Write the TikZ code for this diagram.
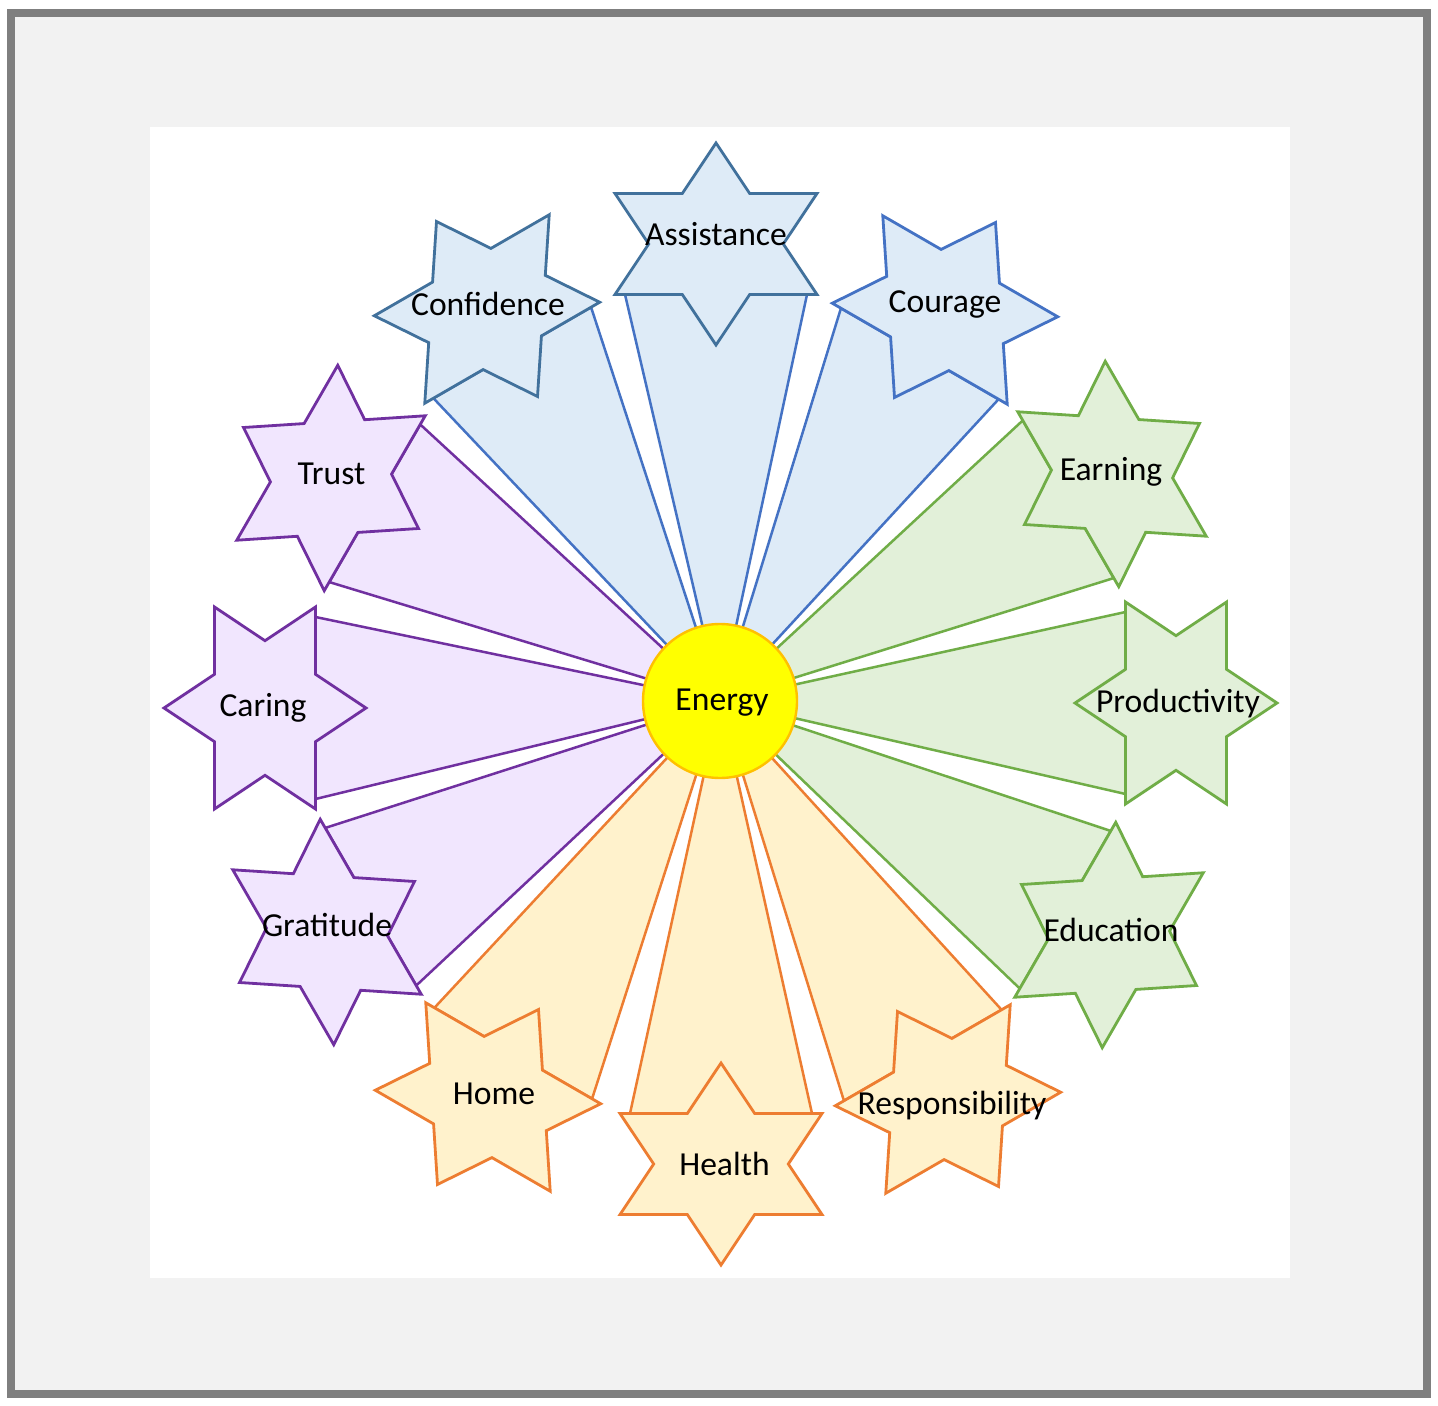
\documentclass[tikz,border=0pt]{standalone}
\usepackage{fontspec}
\setmainfont{Carlito}
\definecolor{borderGray}{HTML}{7F7F7F}
\definecolor{bgGray}{HTML}{F2F2F2}
\definecolor{blueF}{HTML}{DEEBF7}
\definecolor{blueL}{HTML}{4472C4}
\definecolor{blueS}{HTML}{41719C}
\definecolor{greenF}{HTML}{E2F0D9}
\definecolor{greenL}{HTML}{70AD47}
\definecolor{orangeF}{HTML}{FFF2CC}
\definecolor{orangeL}{HTML}{ED7D31}
\definecolor{purpleF}{HTML}{F1E6FE}
\definecolor{purpleL}{HTML}{7030A0}
\definecolor{energyF}{HTML}{FFFF00}
\definecolor{energyL}{HTML}{FFC000}
\def\hexdata{assist/716/1161/0/blueF/blueL/blueS,
courage/945/1095/-30/blueF/blueL/blueL,
earning/1112/931/-60/greenF/greenL/greenL,
product/1176/702/-90/greenF/greenL/greenL,
educ/1109/470/-120/greenF/greenL/greenL,
respons/948/306/-150/orangeF/orangeL/orangeL,
health/721/241/-180/orangeF/orangeL/orangeL,
home/488/308/-210/orangeF/orangeL/orangeL,
gratit/327/473/-240/purpleF/purpleL/purpleL,
caring/265/697/-270/purpleF/purpleL/purpleL,
trust/331/927/-300/purpleF/purpleL/purpleL,
confid/487/1096/-330/blueF/blueL/blueS}
\begin{document}
\begin{tikzpicture}[x=0.5pt,y=0.5pt,
  wedgeshape/.style={line width=1.25pt, line join=round},
  starshape/.style={line width=1.4pt, line join=miter},
  lbl/.style={anchor=base, inner sep=0pt, text=black, font=\fontsize{16.8}{20}\selectfont}]
\useasboundingbox (0,0) rectangle (1438,1405);
\fill[white] (0,0) rectangle (1438,1405);
\draw[line width=4pt, draw=borderGray, fill=bgGray] (11,11) rectangle (1427,1392);
\fill[white] (150,127) rectangle (1290,1278);
\coordinate (ctr) at (720,704);
% wedges
\foreach \nm/\cx/\cy/\r/\fc/\lc/\sc in \hexdata {
  \begin{scope}[shift={(\cx,\cy)}, rotate=\r]
    \coordinate (\nm-c) at (0,0);
    \coordinate (\nm-l) at (-91,-50.5);
    \coordinate (\nm-r) at (91,-50.5);
  \end{scope}
  \draw[wedgeshape, fill=\fc, draw=\lc] (ctr) -- (\nm-l) -- (\nm-r) -- cycle;
}
% centre
\node[circle, minimum size=77pt, inner sep=0pt, fill=energyF, draw=energyL, line width=1.2pt] (E) at (ctr) {};
% stars
\foreach \nm/\cx/\cy/\r/\fc/\lc/\sc in \hexdata {
  \begin{scope}[shift={(\cx,\cy)}, rotate=\r]
    \draw[starshape, fill=\fc, draw=\sc] (0,101) -- (33.7,50.5) -- (101,50.5) -- (67.3,0) -- (101,-50.5) -- (33.7,-50.5) -- (0,-101) -- (-33.7,-50.5) -- (-101,-50.5) -- (-67.3,0) -- (-101,50.5) -- (-33.7,50.5) -- cycle;
  \end{scope}
}
% labels
\node[lbl] (tE) at (722,695) {Energy};
\node[lbl] (tassist) at (716,1159) {Assistance};
\node[lbl] (tconfid) at (488,1089) {Confidence};
\node[lbl] (tcourage) at (945,1092) {Courage};
\node[lbl] (tearning) at (1111,924) {Earning};
\node[lbl] (tproduct) at (1178,693) {Productivity};
\node[lbl] (teduc) at (1111,464) {Education};
\node[lbl] (trespons) at (952,291) {Responsibility};
\node[lbl] (thealth) at (724.5,230) {Health};
\node[lbl] (thome) at (494,301) {Home};
\node[lbl] (tgratit) at (327,469) {Gratitude};
\node[lbl] (tcaring) at (263,689) {Caring};
\node[lbl] (ttrust) at (331.5,921) {Trust};
\end{tikzpicture}
\end{document}
